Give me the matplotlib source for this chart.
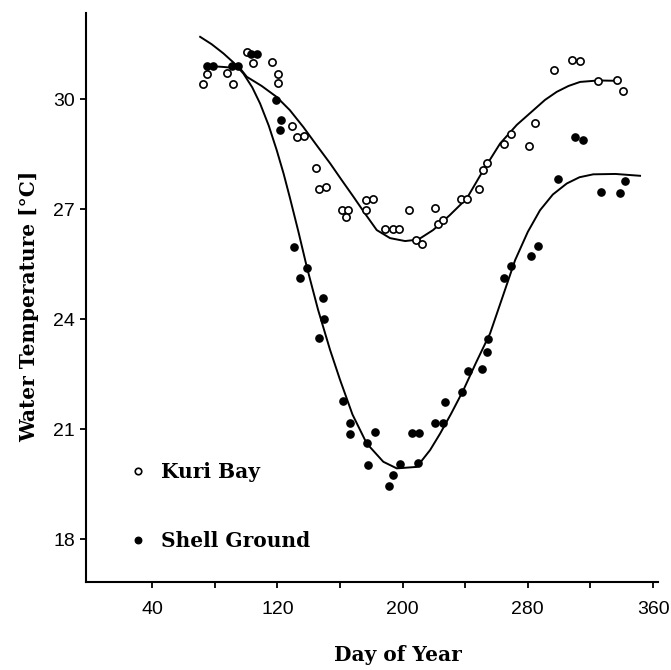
import numpy as np
import matplotlib
matplotlib.use('Agg')
import matplotlib.pyplot as plt

# Kuri Bay (open circles)
kuri_day = [72.4, 75.3, 88.1, 91.9, 100.5, 104.3, 116.8, 120.3, 120.5, 129.2,
            132.6, 136.9, 144.6, 146.9, 151.1, 161.2, 165.0, 163.9, 176.7, 181.0,
            176.7, 188.8, 193.7, 197.9, 204.3, 208.6, 212.3, 221.0, 222.9, 225.7,
            237.2, 241.0, 249.1, 251.6, 254.2, 265.0, 269.1, 281.0, 284.8, 296.8,
            308.3, 313.4, 324.9, 336.8, 340.6]
kuri_temp = [30.40, 30.68, 30.70, 30.41, 31.29, 30.99, 31.00, 30.69, 30.43, 29.27,
             28.97, 28.99, 28.13, 27.54, 27.61, 26.97, 26.99, 26.79, 27.26, 27.28,
             26.97, 26.45, 26.46, 26.46, 26.99, 26.15, 26.06, 27.02, 26.59, 26.70,
             27.29, 27.29, 27.56, 28.08, 28.25, 28.77, 29.05, 28.73, 29.34, 30.79,
             31.06, 31.04, 30.50, 30.52, 30.22]

# Shell Ground (filled circles)
shell_day = [75.3, 78.8, 90.9, 95.1, 103.2, 106.9, 119.0, 122.4, 121.6, 130.7,
             138.8, 134.5, 149.4, 150.1, 146.7, 162.2, 166.5, 166.5, 182.6, 177.1,
             178.2, 198.4, 194.1, 191.2, 206.3, 210.5, 209.7, 220.8, 225.7, 227.1,
             238.2, 242.0, 250.9, 254.2, 254.8, 264.8, 269.3, 282.1, 286.4, 299.1,
             310.2, 315.1, 326.6, 338.7, 342.1]
shell_temp = [30.91, 30.91, 30.90, 30.90, 31.22, 31.22, 29.99, 29.43, 29.16, 25.97,
              25.40, 25.13, 24.59, 24.00, 23.48, 21.76, 21.16, 20.88, 20.91, 20.61,
              20.02, 20.05, 19.75, 19.45, 20.90, 20.90, 20.09, 21.18, 21.18, 21.73,
              22.00, 22.59, 22.63, 23.11, 23.45, 25.13, 25.45, 25.73, 25.99, 27.81,
              28.96, 28.88, 27.46, 27.44, 27.77]

# fitted curves, read at intervals along the day axis
kuri_fit_day = [73.9, 85.0, 96.2, 100.5, 110.0, 119.6, 128.0, 136.6, 145.0, 153.7,
                161.0, 168.6, 176.0, 183.5, 192.0, 201.6, 210.0, 219.5, 230.0, 241.0,
                251.0, 262.3, 273.0, 283.6, 291.0, 298.5, 306.0, 313.4, 325.0, 336.8]
kuri_fit_temp = [30.91, 30.88, 30.84, 30.61, 30.36, 30.06, 29.70, 29.24, 28.75, 28.25,
                 27.80, 27.34, 26.88, 26.43, 26.21, 26.13, 26.17, 26.43, 26.83, 27.29,
                 28.02, 28.79, 29.30, 29.70, 29.98, 30.20, 30.36, 30.47, 30.51, 30.50]

shell_fit_day = [70.7, 78.0, 85.5, 92.0, 98.3, 104.0, 109.0, 114.5, 119.6, 124.0,
                 128.1, 133.5, 138.8, 146.0, 153.7, 160.1, 168.0, 177.1, 187.7, 196.3,
                 209.1, 217.6, 224.0, 231.0, 238.8, 247.0, 255.9, 264.0, 271.9, 280.0,
                 287.8, 296.0, 304.9, 313.0, 321.8, 336.0, 351.7]
shell_fit_temp = [31.70, 31.50, 31.25, 31.00, 30.70, 30.32, 29.88, 29.28, 28.61, 27.97,
                  27.30, 26.38, 25.43, 24.26, 23.16, 22.34, 21.40, 20.61, 20.11, 19.93,
                  19.97, 20.43, 20.88, 21.42, 22.06, 22.82, 23.61, 24.62, 25.61, 26.38,
                  26.97, 27.40, 27.70, 27.87, 27.95, 27.96, 27.91]

series_labels = ['Kuri Bay', 'Shell Ground']
x_ticks = [40, 80, 120, 160, 200, 240, 280, 320, 360]
x_ticklabels = ['40', '', '120', '', '200', '', '280', '', '360']
y_ticks = [18, 21, 24, 27, 30]

label_font = {'family': 'DejaVu Serif', 'weight': 'bold', 'size': 14.5}

fig = plt.figure(figsize=(6.71, 6.70), dpi=100)
ax = fig.add_axes([0.1282, 0.1313, 0.8525, 0.8493])

ax.plot(kuri_fit_day, kuri_fit_temp, color='black', lw=1.4, zorder=2)
ax.plot(shell_fit_day, shell_fit_temp, color='black', lw=1.4, zorder=2)

ax.plot(kuri_day, kuri_temp, 'o', ms=5.2, mfc='white', mec='black', mew=1.2,
        ls='none', zorder=3, label=series_labels[0])
ax.plot(shell_day, shell_temp, 'o', ms=5.2, mfc='black', mec='black', mew=1.0,
        ls='none', zorder=3, label=series_labels[1])

ax.set_xlim(-2.2, 363.2)
ax.set_ylim(16.83, 32.35)
ax.set_xticks(x_ticks)
ax.set_xticklabels(x_ticklabels)
ax.set_yticks(y_ticks)

for side in ['top', 'right']:
    ax.spines[side].set_visible(False)
for side in ['left', 'bottom']:
    ax.spines[side].set_linewidth(1.5)

ax.tick_params(axis='both', direction='out', length=4, width=1.3,
               labelsize=14, labelfontfamily='Liberation Sans')
ax.tick_params(axis='x', pad=10)
ax.tick_params(axis='y', pad=4)

ax.set_xlabel('Day of Year', fontdict=label_font)
ax.set_ylabel('Water Temperature [°C]', fontdict=label_font)
ax.xaxis.set_label_coords(0.545, -0.11)
ax.yaxis.set_label_coords(-0.082, 0.485)

leg = ax.legend(loc='lower left', bbox_to_anchor=(0.073, 0.055), borderaxespad=0,
                borderpad=0, handlelength=1.0, handletextpad=0.65, labelspacing=2.4,
                frameon=False, prop=label_font, markerscale=0.9)

fig.savefig('out.png', dpi=100)
